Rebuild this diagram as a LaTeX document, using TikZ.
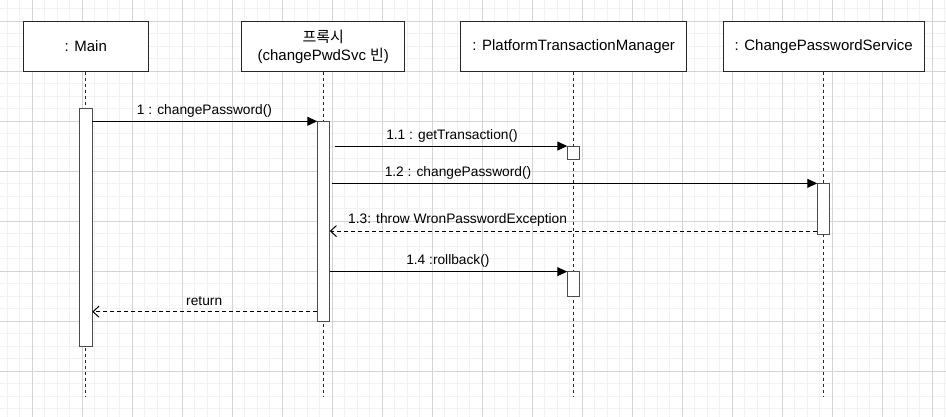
\documentclass[tikz,border=0pt]{standalone}
\usepackage{fontspec}
\setmainfont{Liberation Sans}
\newfontfamily\kr{Noto Sans CJK KR}
\usetikzlibrary{arrows.meta}
\begin{document}
\begin{tikzpicture}[x=1pt,y=-1pt,
  minorgrid/.style={draw=black!5, line width=0.8pt},
  majorgrid/.style={draw=black!17, line width=0.8pt},
  obj/.style={draw=black!85, line width=1pt, fill=white, minimum height=50.4pt, inner sep=0pt, outer sep=0pt, font=\fontsize{15}{18}\selectfont, align=center},
  act/.style={draw=black!70, line width=1pt, fill=white, minimum width=12.5pt, inner sep=0pt, outer sep=0pt},
  life/.style={draw=black!85, line width=1pt, dash pattern=on 3pt off 3pt},
  lbl/.style={font=\fontsize{13.75}{16}\selectfont, anchor=base, inner sep=0pt},
  msg/.style={line width=1pt, -{Triangle[length=10pt,width=9pt]}},
  ret/.style={line width=1pt, dash pattern=on 4pt off 3pt, -{Straight Barb[length=6pt,width=11pt]}}]
\useasboundingbox (0,0) rectangle (946,417);
\fill[white] (0,0) rectangle (946,417);
% grid
\foreach \k in {-2,...,73} { \draw[minorgrid] ({32.3+12.5*\k},0) -- ({32.3+12.5*\k},417); }
\foreach \k in {-1,...,31} { \draw[minorgrid] (0,{21.3+12.5*\k}) -- (946,{21.3+12.5*\k}); }
\foreach \k in {0,...,18} { \draw[majorgrid] ({32.3+50*\k},0) -- ({32.3+50*\k},417); }
\foreach \k in {0,...,7} { \draw[majorgrid] (0,{21.3+50*\k}) -- (946,{21.3+50*\k}); }
% objects
\node[obj, minimum width=125pt] (main) at (85.8,46.5) {: Main};
\node[obj, minimum width=162.7pt] (proxy) at (323.3,46.5) {{\kr 프록시}\\(changePwdSvc {\kr 빈})};
\node[obj, minimum width=226pt] (ptm) at (573.7,46.5) {: PlatformTransactionManager};
\node[obj, minimum width=200.7pt] (cps) at (823.7,46.5) {: ChangePasswordService};
\coordinate (bot) at (0,397);
% lifelines
\draw[life] (main.south) -- (main.south |- bot);
\draw[life] (proxy.south) -- (proxy.south |- bot);
\draw[life] (ptm.south) -- (ptm.south |- bot);
\draw[life] (cps.south) -- (cps.south |- bot);
% activations
\node[act, minimum height=237pt] (mainact) at (86,227.5) {};
\node[act, minimum height=200.4pt] (pxact) at (323.5,221.5) {};
\node[act, minimum height=13.3pt] (ptma) at (573.5,152.7) {};
\node[act, minimum height=25.3pt] (ptmb) at (573.5,284.3) {};
\node[act, minimum height=50.7pt] (cpsa) at (823.5,208.7) {};
% messages
\draw[msg] (mainact.east |- pxact.north) -- (pxact.north west);
\draw[msg] ([xshift=5pt]pxact.east |- ptma.north) -- (ptma.north west);
\draw[msg] ([xshift=2.5pt]pxact.east |- cpsa.north) -- (cpsa.north west);
\coordinate (e13) at ([yshift=3pt]cpsa.south west);
\draw[ret] (e13) -- (e13 -| pxact.east);
\draw[msg] (pxact.east |- ptmb.north) -- (ptmb.north west);
\coordinate (er) at ([yshift=10pt]pxact.south west);
\draw[ret] (er) -- (er -| mainact.east);
% labels
\node[lbl] (l1) at (204.5,115) {1 : changePassword()};
\node[lbl] (l11) at (452,139.3) {1.1 : getTransaction()};
\node[lbl] (l12) at (458,176.6) {1.2 : changePassword()};
\node[lbl] (l13) at (457.6,224) {1.3: throw WronPasswordException};
\node[lbl] (l14) at (447.9,265) {1.4 :rollback()};
\node[lbl] (lr) at (204.2,305) {return};
\end{tikzpicture}
\end{document}
